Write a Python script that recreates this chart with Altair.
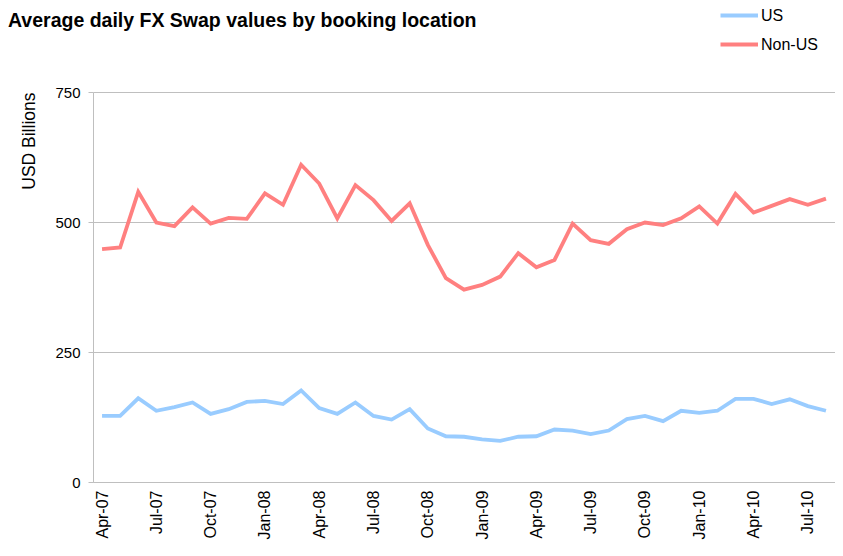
import altair as alt
import pandas as pd

months = ["Apr-07","May-07","Jun-07","Jul-07","Aug-07","Sep-07","Oct-07","Nov-07","Dec-07",
          "Jan-08","Feb-08","Mar-08","Apr-08","May-08","Jun-08","Jul-08","Aug-08","Sep-08",
          "Oct-08","Nov-08","Dec-08","Jan-09","Feb-09","Mar-09","Apr-09","May-09","Jun-09",
          "Jul-09","Aug-09","Sep-09","Oct-09","Nov-09","Dec-09","Jan-10","Feb-10","Mar-10",
          "Apr-10","May-10","Jun-10","Jul-10","Aug-10"]

us = [127,127,161,137,144,153,131,140,154,156,150,176,142,131,153,127,120,140,103,88,87,
      82,79,87,88,101,99,92,99,121,127,117,137,133,137,160,160,150,159,146,137]

non_us = [448,451,558,499,492,528,497,508,506,555,533,610,574,507,571,542,502,536,456,392,370,
          379,395,440,413,427,497,465,458,486,499,494,507,530,497,554,518,531,544,533,545]

series_names = ["US", "Non-US"]
series_colors = ["#99CCFF", "#FF8080"]
y_ticks = [0, 250, 500, 750]
x_label_values = months[::3]

rows = []
for m, u, n in zip(months, us, non_us):
    rows.append({"month": m, "series": "US", "value": u})
    rows.append({"month": m, "series": "Non-US", "value": n})
df = pd.DataFrame(rows)

FONT = "Liberation Sans"
GRID = "#BFBFBF"

chart = alt.Chart(df).mark_line(strokeWidth=3.8).encode(
    x=alt.X("month:O", sort=months,
            scale=alt.Scale(type="point", padding=0.5),
            axis=alt.Axis(title=None, values=x_label_values, labelAngle=-90, ticks=False,
                          grid=False, domainColor=GRID, labelFont=FONT, labelFontSize=16,
                          labelColor="#000000", labelPadding=8)),
    y=alt.Y("value:Q", scale=alt.Scale(domain=[0, 750], nice=False),
            axis=alt.Axis(title="USD Billions", values=y_ticks, grid=True, gridColor=GRID,
                          domainColor=GRID, tickColor=GRID, tickSize=5, labelPadding=8,
                          labelFont=FONT, labelFontSize=15, labelColor="#000000",
                          titleFont=FONT, titleFontSize=17.5, titleFontWeight="normal",
                          titleColor="#000000", titleAngle=-90, titleAlign="right",
                          titleBaseline="middle", titleX=-64, titleY=0)),
    color=alt.Color("series:N", sort=series_names,
                    scale=alt.Scale(domain=series_names, range=series_colors),
                    legend=alt.Legend(title=None, orient="none", legendX=648, legendY=-86,
                                      symbolType="M-4,0H1", symbolSize=225,
                                      symbolStrokeWidth=4, labelFont=FONT, labelFontSize=16,
                                      labelColor="#000000", labelOffset=1, rowPadding=11)),
    order=alt.Order("series:N"),
).properties(
    width=742,
    height=390,
    autosize=alt.AutoSizeParams(type="none"),
    padding={"left": 85, "top": 84, "right": 0, "bottom": 66},
    title=alt.TitleParams("Average daily FX Swap values by booking location",
                          anchor="start", frame="group", font=FONT, fontSize=19.5,
                          fontWeight="bold", color="#000000", dx=-85, dy=29),
).configure_view(stroke=None)

chart.save("out.html", embed_options={"renderer": "svg", "actions": False})
